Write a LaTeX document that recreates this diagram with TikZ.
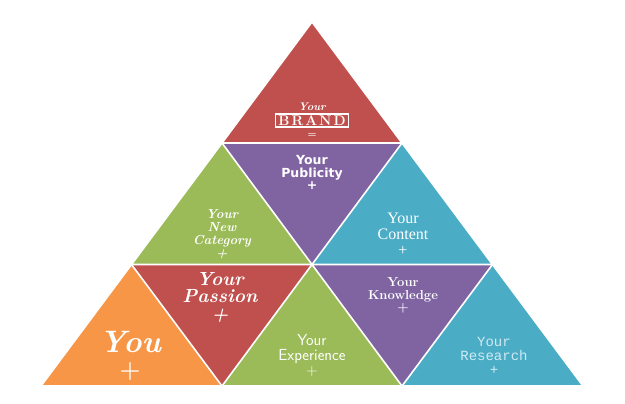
\documentclass[tikz,border=0pt]{standalone}
\usepackage{fontspec}
\newfontfamily\contentfont{Liberation Serif}
\newfontfamily\pubfont{DejaVu Sans}
\newfontfamily\resfont{Liberation Mono}

\definecolor{brandred}{HTML}{C0504D}
\definecolor{pubpurple}{HTML}{8064A2}
\definecolor{catgreen}{HTML}{9BBB59}
\definecolor{contteal}{HTML}{4BACC6}
\definecolor{youorange}{HTML}{F79646}
\definecolor{resfaint}{HTML}{CFEAF2}

\tikzset{
  tri/.style={draw=white, line width=1.6pt, line join=miter},
  lbl/.style={anchor=center, inner sep=0pt, text=white, align=center},
}

\begin{document}
\begin{tikzpicture}[x=1pt, y=-1pt]

  %% ════ 顶点（三行三角形的角）════
  \coordinate (t0) at (312.0,22.0);
  \coordinate (m1) at (222.0,143.0);  \coordinate (m2) at (402.0,143.0);
  \coordinate (r1) at (131.5,264.5);  \coordinate (r2) at (312.0,264.5);  \coordinate (r3) at (492.5,264.5);
  \coordinate (b1) at (41.0,386.0);   \coordinate (b2) at (222.0,386.0);
  \coordinate (b3) at (402.0,386.0);  \coordinate (b4) at (583.0,386.0);

  %% ════ 填充区（正三角 + 倒三角）════
  \fill[brandred]  (t0) -- (m1) -- (m2) -- cycle;
  \fill[pubpurple] (m1) -- (m2) -- (r2) -- cycle;
  \fill[catgreen]  (m1) -- (r1) -- (r2) -- cycle;
  \fill[contteal]  (m2) -- (r2) -- (r3) -- cycle;
  \fill[youorange] (r1) -- (b1) -- (b2) -- cycle;
  \fill[brandred]  (r1) -- (r2) -- (b2) -- cycle;
  \fill[catgreen]  (r2) -- (b2) -- (b3) -- cycle;
  \fill[pubpurple] (r2) -- (r3) -- (b3) -- cycle;
  \fill[contteal]  (r3) -- (b3) -- (b4) -- cycle;

  %% ════ 白色分隔线 ════
  \draw[tri] (t0) -- (m1) -- (m2) -- cycle;
  \draw[tri] (m1) -- (r1) -- (r3) -- (m2);
  \draw[tri] (m1) -- (r2) -- (m2);
  \draw[tri] (r1) -- (b1) -- (b4) -- (r3);
  \draw[tri] (r1) -- (b2) -- (r2) -- (b3) -- (r3);

  %% ════ 标签 ════
  \node[lbl, font=\fontsize{11}{12}\selectfont\bfseries\itshape] (brandyour) at (312.0,106.5) {Your};
  \node[lbl, draw=white, line width=1.1pt, inner xsep=3pt, inner ysep=1.5pt,
        font=\fontsize{14}{15}\selectfont\bfseries] (brand) at (312.0,120.5)
    {B\hspace{2pt}R\hspace{2pt}A\hspace{2pt}N\hspace{2pt}D};
  \node[lbl, font=\fontsize{10}{11}\selectfont\bfseries] (brandeq) at (312.0,135.5) {=};

  \node[lbl, font=\pubfont\bfseries\fontsize{12.5}{12.5}\selectfont] (pub) at (312.0,172.5)
    {Your\\ Publicity\\ +};

  \node[lbl, font=\bfseries\itshape\fontsize{13}{13}\selectfont] (cat) at (222.0,234.0)
    {Your\\ New\\ Category\\ +};

  \node[lbl, font=\contentfont\fontsize{16}{16}\selectfont] (cont) at (403.0,234.0)
    {Your\\ Content\\ +};

  \node[lbl, font=\bfseries\itshape\fontsize{31}{31}\selectfont] (you) at (130.0,341.5) {You};
  \node[lbl, font=\bfseries\fontsize{24}{24}\selectfont] (youplus) at (130.0,372.0) {+};

  \node[lbl, font=\bfseries\itshape\fontsize{19}{17.5}\selectfont] (pas) at (220.0,297.0)
    {Your\\ Passion\\ +};

  \node[lbl, font=\sffamily\fontsize{16}{15}\selectfont] (exp) at (312.0,355.5)
    {Your\\ Experience\\ +};

  \node[lbl, font=\bfseries\fontsize{13}{12.5}\selectfont] (know) at (403.0,295.5)
    {Your\\ Knowledge\\ +};

  \node[lbl, text=resfaint, font=\resfont\fontsize{14}{14}\selectfont] (res) at (494.0,355.5)
    {Your\\ Research\\ +};

  % 钉死画布
  \pgfresetboundingbox
  \path[use as bounding box] (0,0) rectangle (625,404);
\end{tikzpicture}
\end{document}
